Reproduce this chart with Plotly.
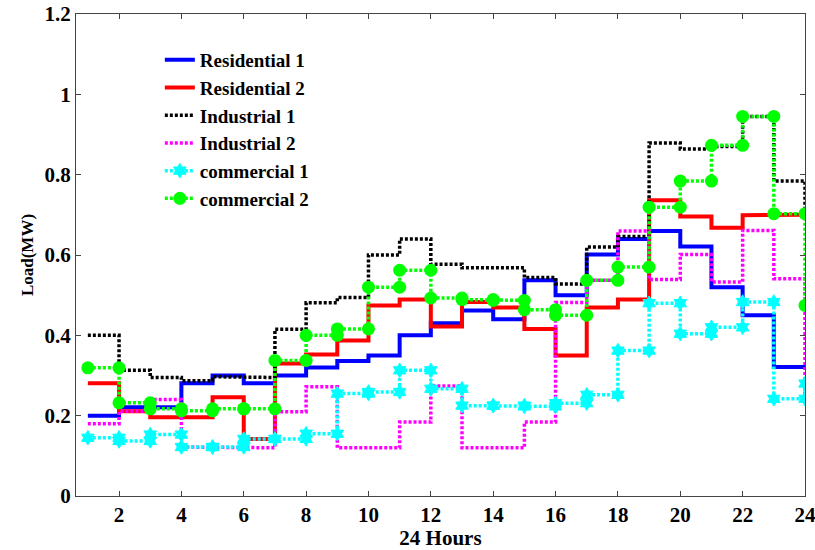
import plotly.graph_objects as go

hours = list(range(1, 25))

residential_1 = [0.20, 0.221, 0.221, 0.281, 0.30, 0.281, 0.30, 0.32, 0.336, 0.35, 0.40, 0.43,
                 0.462, 0.44, 0.537, 0.50, 0.601, 0.64, 0.66, 0.621, 0.52, 0.45, 0.321, 0.321]
residential_2 = [0.281, 0.211, 0.196, 0.196, 0.246, 0.142, 0.33, 0.352, 0.387, 0.474, 0.489, 0.422,
                 0.483, 0.469, 0.416, 0.35, 0.469, 0.489, 0.736, 0.696, 0.668, 0.699, 0.70, 0.70]
industrial_1 = [0.40, 0.313, 0.295, 0.287, 0.297, 0.295, 0.415, 0.481, 0.494, 0.60, 0.64, 0.577,
                0.568, 0.568, 0.544, 0.528, 0.62, 0.646, 0.879, 0.864, 0.87, 0.945, 0.784, 0.70]
industrial_2 = [0.18, 0.211, 0.24, 0.122, 0.122, 0.12, 0.21, 0.272, 0.12, 0.12, 0.184, 0.274,
                0.12, 0.12, 0.184, 0.482, 0.537, 0.66, 0.539, 0.601, 0.533, 0.661, 0.541, 0.24]
commercial_1 = [0.145, 0.137, 0.153, 0.122, 0.122, 0.142, 0.142, 0.155, 0.255, 0.259, 0.313, 0.267,
                0.225, 0.225, 0.223, 0.231, 0.252, 0.362, 0.48, 0.404, 0.42, 0.483, 0.242, 0.28]
commercial_2 = [0.319, 0.232, 0.217, 0.212, 0.217, 0.217, 0.3375, 0.40, 0.416, 0.52, 0.562, 0.493,
                0.489, 0.487, 0.464, 0.45, 0.537, 0.57, 0.719, 0.784, 0.873, 0.945, 0.703, 0.4745]

x_ticks = list(range(2, 25, 2))
y_ticks = [0, 0.2, 0.4, 0.6, 0.8, 1.0, 1.2]
y_tick_text = ["0", "0.2", "0.4", "0.6", "0.8", "1", "1.2"]


def stairs(x, y):
    xs, ys = [], []
    for i in range(len(x)):
        if i > 0:
            xs.append(x[i])
            ys.append(y[i - 1])
        xs.append(x[i])
        ys.append(y[i])
    return xs, ys


series = [
    ("Residential 1", residential_1, dict(color="#0000FF", width=4, dash="solid"), None),
    ("Residential 2", residential_2, dict(color="#FF0000", width=4, dash="solid"), None),
    ("Industrial 1", industrial_1, dict(color="#000000", width=3.5, dash="3px,2px"), None),
    ("Industrial 2", industrial_2, dict(color="#FF00FF", width=3.5, dash="3px,2px"), None),
    ("commercial 1", commercial_1, dict(color="#00FFFF", width=3.5, dash="3px,2px"),
     dict(symbol="hexagram", size=11, color="#00FFFF", line=dict(width=1, color="#00FFFF"))),
    ("commercial 2", commercial_2, dict(color="#00FF00", width=3.5, dash="3px,2px"),
     dict(symbol="circle", size=13, color="#00FF00", line=dict(width=0))),
]

fig = go.Figure()
for name, vals, line, marker in series:
    xs, ys = stairs(hours, vals)
    fig.add_trace(go.Scatter(
        x=xs, y=ys, name=name,
        mode="lines+markers" if marker else "lines",
        line=line, marker=marker if marker else None,
    ))

font_family = "Liberation Serif"
tick_font = dict(family=font_family, size=21, weight="bold", color="black")
fig.update_layout(
    width=815, height=550,
    margin=dict(l=76, r=10, t=14, b=54),
    paper_bgcolor="white", plot_bgcolor="white",
    font=dict(family=font_family, color="black"),
    showlegend=True,
    legend=dict(
        x=0.115, y=0.944, xanchor="left", yanchor="top",
        bgcolor="rgba(0,0,0,0)", borderwidth=0,
        font=dict(family=font_family, size=19, weight="bold", color="black"),
        itemwidth=30,
    ),
    xaxis=dict(
        range=[0.62, 24.0], automargin=False, ticklabeloverflow="allow",
        tickmode="array", tickvals=x_ticks,
        ticks="inside", ticklen=5, tickcolor="#444",
        showline=True, linecolor="#444", linewidth=1, mirror="ticks",
        showgrid=False, zeroline=False,
        tickfont=tick_font,
        title=dict(text="24 Hours", font=dict(family=font_family, size=21, weight="bold", color="black"),
                   standoff=2),
    ),
    yaxis=dict(
        range=[0, 1.2], automargin=False, ticklabeloverflow="allow",
        tickmode="array", tickvals=y_ticks, ticktext=y_tick_text,
        ticks="inside", ticklen=5, tickcolor="#444",
        showline=True, linecolor="#444", linewidth=1, mirror="ticks",
        showgrid=False, zeroline=False,
        tickfont=tick_font,
        title=dict(text="Load(MW)", font=dict(family=font_family, size=17, weight="bold", color="black"),
                   standoff=6),
    ),
)

fig.write_html("out.html")
